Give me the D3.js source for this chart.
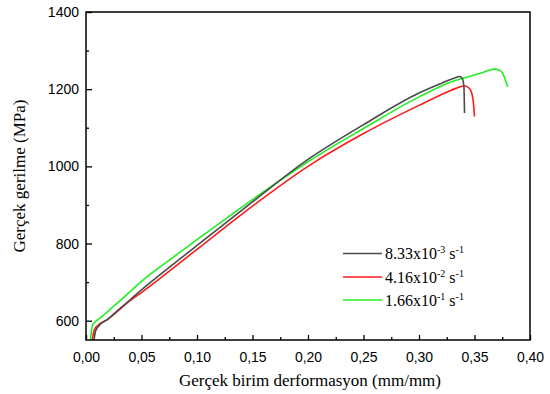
<!DOCTYPE html>
<html><head><meta charset="utf-8">
<script src="https://cdn.jsdelivr.net/npm/d3@7"></script>
<style>body{margin:0;background:#fff}svg{display:block}</style>
</head><body>
<script>
const xTicks = [0,0.05,0.10,0.15,0.20,0.25,0.30,0.35,0.40];
const yTicks = [600,800,1000,1200,1400];
const seriesNames = ["8.33x10|-3| s|-1", "4.16x10|-2| s|-1", "1.66x10|-1| s|-1"];
const seriesColors = ["#4a4a4a", "#ff1a1a", "#22ee22"];
const blackStrain = [0.0072,0.0085,0.011,0.02,0.03,0.04,0.05,0.075,0.1,0.15,0.2,0.25,0.3,0.32,0.332,0.3365,0.339,0.3405,0.341];
const blackStress = [550,572,585,605,630,655,680,738,795,908,1018,1108,1190,1215,1229,1233,1228,1205,1138];
const redStrain = [0.0057,0.007,0.0095,0.019,0.03,0.0366,0.05,0.1,0.15,0.2,0.25,0.3,0.325,0.337,0.341,0.345,0.3475,0.349,0.35];
const redStress = [550,572,585,602,628,645,673,785,897,1000,1085,1158,1192,1206,1209,1203,1190,1165,1129];
const greenStrain = [0.0042,0.0048,0.0062,0.009,0.015,0.02,0.03,0.05,0.075,0.1,0.15,0.2,0.25,0.3,0.33,0.355,0.363,0.368,0.372,0.3755,0.378,0.38];
const greenStress = [550,573,590,599,612,625,650,702,757,810,914,1012,1098,1180,1220,1241,1249,1252,1250,1241,1222,1206];

const W=550,H=394, L=86, R=530, T=12, B=340;
const svg = d3.select("body").append("svg").attr("width",W).attr("height",H);
const x = d3.scaleLinear().domain([0,0.40]).range([L,R]);
const y = d3.scaleLinear().domain([550,1400]).range([B,T]);

svg.append("clipPath").attr("id","c").append("rect").attr("x",L).attr("y",T).attr("width",R-L).attr("height",B-T);

const series = [
  blackStrain.map((s,i)=>[s,blackStress[i]]),
  redStrain.map((s,i)=>[s,redStress[i]]),
  greenStrain.map((s,i)=>[s,greenStress[i]])
];
const line = d3.line().x(d=>x(d[0])).y(d=>y(d[1])).curve(d3.curveMonotoneX);
const g = svg.append("g").attr("clip-path","url(#c)");
[1,2,0].forEach(i=>{
  g.append("path").attr("d", line(series[i])).attr("fill","none")
   .attr("stroke",seriesColors[i]).attr("stroke-width",1.6).attr("stroke-linejoin","round");
});

// frame
svg.append("rect").attr("x",L).attr("y",T).attr("width",R-L).attr("height",B-T)
  .attr("fill","none").attr("stroke","#000").attr("stroke-width",1.5);

const fmt = v => d3.format(".2f")(v).replace(".",",");
// x axis
const xa = svg.append("g").attr("transform",`translate(0,${B})`)
  .call(d3.axisBottom(x).tickValues(xTicks).tickSize(-5).tickPadding(12).tickFormat(fmt));
xa.select(".domain").remove();
xa.selectAll("text").attr("font-family","Liberation Sans, Arial, sans-serif").attr("font-size",14).attr("fill","#000");
xa.selectAll("line").attr("stroke","#000").attr("stroke-width",1.3);
const xm = svg.append("g").attr("transform",`translate(0,${B})`)
  .call(d3.axisBottom(x).tickValues(d3.range(0.025,0.40,0.05)).tickSize(-3).tickFormat(""));
xm.select(".domain").remove();
xm.selectAll("line").attr("stroke","#000").attr("stroke-width",1.3);

// y axis
const ya = svg.append("g").attr("transform",`translate(${L},0)`)
  .call(d3.axisLeft(y).tickValues(yTicks).tickSize(-6).tickPadding(7).tickFormat(d3.format("d")));
ya.select(".domain").remove();
ya.selectAll("text").attr("font-family","Liberation Sans, Arial, sans-serif").attr("font-size",14).attr("fill","#000");
ya.selectAll("line").attr("stroke","#000").attr("stroke-width",1.3);
const ym = svg.append("g").attr("transform",`translate(${L},0)`)
  .call(d3.axisLeft(y).tickValues([700,900,1100,1300]).tickSize(-3).tickFormat(""));
ym.select(".domain").remove();
ym.selectAll("line").attr("stroke","#000").attr("stroke-width",1.3);

// titles
svg.append("text").attr("x",(L+R)/2+2).attr("y",386).attr("text-anchor","middle")
  .attr("font-family","Liberation Serif, Times New Roman, serif").attr("font-size",17)
  .text("Gerçek birim derformasyon (mm/mm)");
svg.append("text").attr("transform",`translate(25,176) rotate(-90)`).attr("text-anchor","middle")
  .attr("font-family","Liberation Serif, Times New Roman, serif").attr("font-size",17)
  .text("Gerçek gerilme (MPa)");

// legend
const legY = [253.5,277,300];
seriesNames.forEach((nm,i)=>{
  svg.append("line").attr("x1",343).attr("x2",382).attr("y1",legY[i]).attr("y2",legY[i])
    .attr("stroke",seriesColors[i]).attr("stroke-width",1.6);
  const parts = nm.split("|");
  const t = svg.append("text").attr("x",385).attr("y",legY[i]+5.5)
    .attr("font-family","Liberation Serif, Times New Roman, serif").attr("font-size",16);
  t.append("tspan").text(parts[0]);
  t.append("tspan").attr("dy",-6).attr("font-size",10).text(parts[1]);
  t.append("tspan").attr("dy",6).text(parts[2]);
  t.append("tspan").attr("dy",-6).attr("font-size",10).text(parts[3]);
});
</script>
</body></html>
